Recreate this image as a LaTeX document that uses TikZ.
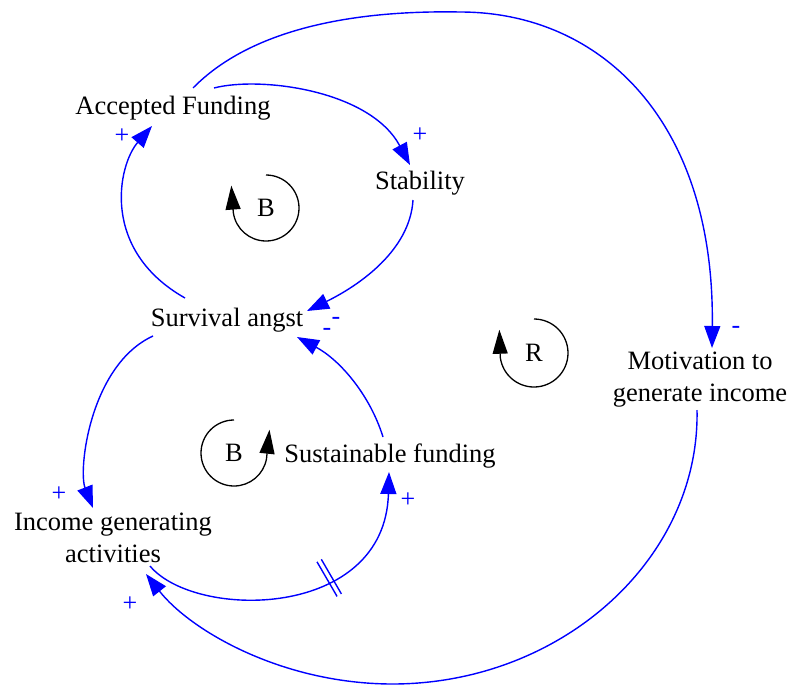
\documentclass[tikz,border=0pt]{standalone}
\usepackage{fontspec}
\setmainfont{Liberation Serif}
\newfontfamily\diagfont{Liberation Serif}
\usetikzlibrary{arrows.meta,calc,decorations.markings}
\begin{document}
\begin{tikzpicture}[x=1pt,y=-1pt,
  var/.style={font=\diagfont\fontsize{26.5}{32}\selectfont, inner sep=0pt, align=center},
  link/.style={draw=blue, line width=1.4pt, -{Triangle[length=22pt,width=16pt]}},
  sign/.style={text=blue, font=\diagfont\fontsize{26}{26}\selectfont, inner sep=0pt},
  loopname/.style={font=\diagfont\fontsize{26.5}{26.5}\selectfont, inner sep=0pt},
  loopmark/.style={draw=black, line width=1.3pt, -{Triangle[length=24pt,width=15pt]}},
  delay/.style={postaction={decorate}, decoration={markings,
    mark=at position 0.6 with {\draw[-,blue,line width=1.4pt]
      (-2.5pt,-20pt) -- (-2.5pt,20pt) (2.5pt,-20pt) -- (2.5pt,20pt);}}}
]
\useasboundingbox (0,0) rectangle (791,685);

% variables
\node[var] (af) at (173,108) {Accepted Funding};
\node[var] (st) at (420,183) {Stability};
\node[var] (sa) at (227,320) {Survival angst};
\node[var] (mo) at (700,380) {Motivation to\\generate income};
\node[var] (sf) at (390,456) {Sustainable funding};
\node[var] (ig) at (113,538) {Income generating\\activities};

% loop identifiers
\node[loopname] (b1) at (266,208) {B};
\node[loopname] (b2) at (234,453) {B};
\node[loopname] (r1) at (534,353) {R};
\draw[loopmark] ($(b1)+(0,-33)$) arc[start angle=90,end angle=-172,radius=33pt] -- ++(-2,-27);
\draw[loopmark] ($(b2)+(0,-33)$) arc[start angle=90,end angle=350,radius=33pt] -- ++(3,-29);
\draw[loopmark] ($(r1)+(0,-34)$) arc[start angle=90,end angle=-172,radius=34pt] -- ++(-1,-28);

% causal links
\draw[link] ([shift={(41,-20)}]af.center) .. controls (260,76) and (370,90) .. ([shift={(-10,-18)}]st.center);
\draw[link] ([shift={(-7,17)}]st.center) .. controls (410,250) and (360,285) .. ([shift={(80,-9)}]sa.center);
\draw[link] ([shift={(-42,-22)}]sa.center) .. controls (100,250) and (118,165) .. ([shift={(-21,18)}]af.center);
\draw[link] ([shift={(-74,16)}]sa.center) .. controls (90,365) and (78,470) .. ([shift={(-20,-30)}]ig.center);
\draw[link] ([shift={(-7,-19)}]sf.center) .. controls (370,395) and (340,360) .. ([shift={(70,17)}]sa.center);
\draw[link,delay] ([shift={(37,28)}]ig.center) .. controls (195,620) and (385,620) .. ([shift={(-1,16)}]sf.center);
\draw[link] ([shift={(20,-20)}]af.center) .. controls (250,30) and (350,10) .. (460,12)
  .. controls (600,12) and (715,120) .. ([shift={(12,-32)}]mo.center);
\draw[link] ([shift={(-3,30)}]mo.center) .. controls (700,560) and (560,685) .. (390,684)
  .. controls (280,683) and (190,630) .. ([shift={(33,36)}]ig.center);

% polarities
\node[sign] (p1) at (420,135) {+};
\node[sign] (p2) at (336,321) {-};
\node[sign] (p3) at (122,136) {+};
\node[sign] (p4) at (59,494) {+};
\node[sign] (p5) at (327,332) {-};
\node[sign] (p6) at (408,500) {+};
\node[sign] (p7) at (736,330) {-};
\node[sign] (p8) at (130,604) {+};
\end{tikzpicture}
\end{document}
